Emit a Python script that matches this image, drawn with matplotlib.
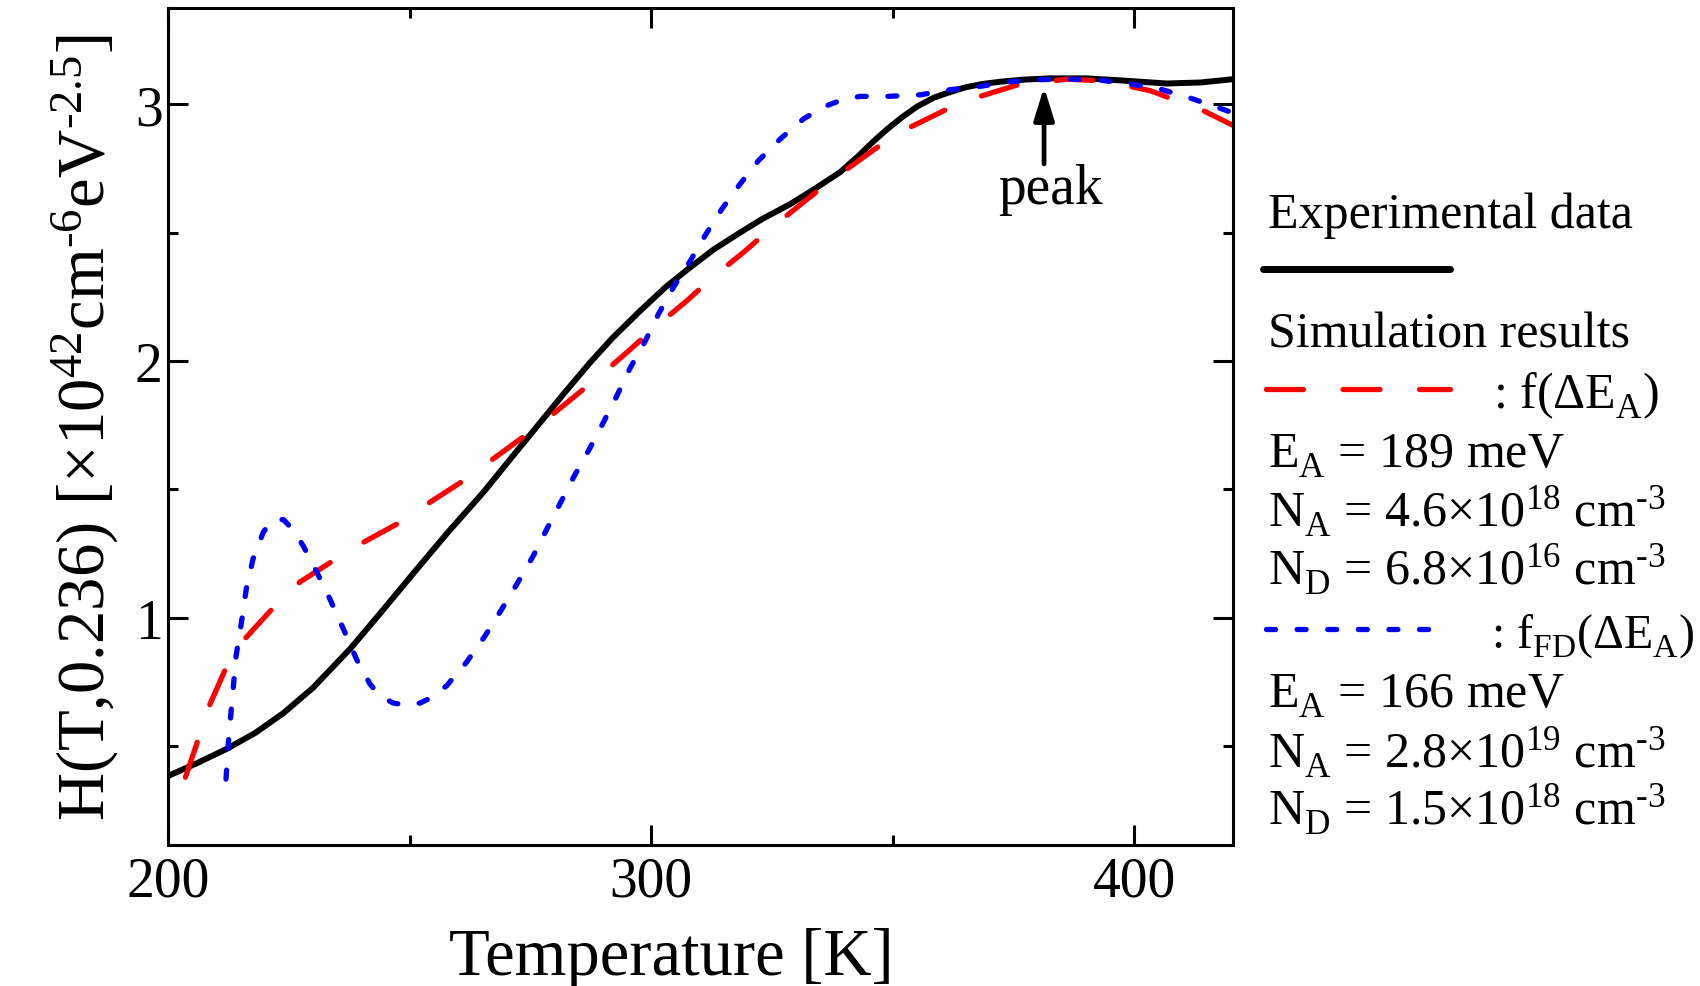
import matplotlib
matplotlib.use("Agg")
import matplotlib.pyplot as plt
import matplotlib._mathtext as mathtext_internal
from matplotlib.lines import Line2D
from matplotlib.ticker import MultipleLocator

# experimental data (black solid)
exp_T = [200.0, 206, 212.1, 218, 223.9, 230, 237.7, 244, 251.5, 258, 265.3, 272, 277.0,
         282, 287.4, 292, 297.7, 303, 308.1, 313, 318.4, 323, 328.8, 334, 339.1, 343,
         346, 349, 352, 355, 358.5, 361.9, 365, 368.5, 372.3, 377, 382.6, 390, 396.4,
         406.7, 413.7, 420.5]
exp_H = [0.385, 0.435, 0.49, 0.552, 0.63, 0.728, 0.88, 1.02, 1.19, 1.335, 1.49, 1.645, 1.76,
         1.875, 1.995, 2.09, 2.195, 2.288, 2.365, 2.435, 2.50, 2.553, 2.611, 2.672, 2.735, 2.80,
         2.855, 2.905, 2.95, 2.99, 3.025, 3.047, 3.065, 3.078, 3.087, 3.095, 3.10, 3.10, 3.093,
         3.08, 3.084, 3.097]

# simulation f(dEA) (red dashed)
f_T = [203.6, 206.3, 208.7, 212.1, 216.2, 221.8, 227.3, 234.2, 240.4, 248.0, 254.2, 261.1,
       267.3, 273.9, 280.1, 289.4, 295.0, 301, 307.4, 313, 319.1, 325, 331.5, 337, 341.5,
       347.4, 353.6, 361.2, 368.1, 375.7, 386.0, 393.6, 403.3, 414.3, 420.5]
f_H = [0.38, 0.53, 0.665, 0.81, 0.925, 1.04, 1.14, 1.223, 1.294, 1.372, 1.45, 1.534,
       1.619, 1.71, 1.80, 1.943, 2.034, 2.135, 2.235, 2.33, 2.423, 2.52, 2.618, 2.70, 2.76,
       2.84, 2.91, 2.98, 3.03, 3.074, 3.097, 3.09, 3.052, 2.974, 2.916]

# simulation fFD(dEA) (blue dotted)
fd_T = [212.0, 212.5, 213.1, 214.1, 215.2, 216.2, 217.6, 219.7, 221.5, 223.9, 226, 228.0,
        230.8, 233.5, 236.3, 239.0, 241.8, 244, 246.6, 249.5, 252.2, 255, 257.7, 261.8,
        265.6, 269.1, 272.2, 275.6, 278.4, 281, 284, 287.4, 290.1, 292.9, 295.7, 298.8,
        301.5, 304.6, 308.1, 311.2, 314.6, 318.4, 322.2, 326.7, 331.5, 335.8, 340, 343.3,
        349.1, 355.7, 361.9, 368.1, 374.3, 380.5, 386.7, 393, 399.2, 405.4, 411.6, 417.8, 420.5]
fd_H = [0.373, 0.516, 0.646, 0.853, 0.983, 1.113, 1.23, 1.333, 1.38, 1.383, 1.34, 1.28,
        1.178, 1.074, 0.957, 0.84, 0.743, 0.695, 0.669, 0.66, 0.669, 0.695, 0.737, 0.828,
        0.93, 1.035, 1.132, 1.242, 1.346, 1.44, 1.55, 1.664, 1.761, 1.865, 1.975, 2.079,
        2.183, 2.287, 2.39, 2.49, 2.591, 2.689, 2.78, 2.864, 2.942, 2.99, 3.02, 3.03,
        3.03, 3.036, 3.056, 3.069, 3.087, 3.095, 3.097, 3.093, 3.078, 3.058, 3.023, 2.983, 2.965]

peak_T = 381.3

plt.rcParams['font.family'] = ['Liberation Serif', 'DejaVu Serif']
plt.rcParams['mathtext.fontset'] = 'custom'
plt.rcParams['mathtext.rm'] = 'Liberation Serif'
plt.rcParams['mathtext.it'] = 'Liberation Serif:italic'
# subscripts sit lower in the original
mathtext_internal.FontConstantsBase.sub1 = 0.45

HY = '\u2010'  # short hyphen used in the exponents

W, H = 1700, 987
fig = plt.figure(figsize=(17, 9.87), dpi=100)
ax = fig.add_axes([168 / W, 1 - 845.6 / H, (1233 - 168) / W, (845.6 - 8.7) / H])

ax.plot(exp_T, exp_H, color='black', lw=4.3, solid_capstyle='round', solid_joinstyle='round')
ax.plot(f_T, f_H, color='#ff0000', lw=3.8, dashes=(7, 7.5), dash_capstyle='round')
ax.plot(fd_T, fd_H, color='#0000ff', lw=3.8, dashes=(1.7, 4.1), dash_capstyle='round')

ax.set_xlim(200, 420.4)
ax.set_ylim(0.118, 3.375)
ax.xaxis.set_major_locator(MultipleLocator(100))
ax.xaxis.set_minor_locator(MultipleLocator(50))
ax.yaxis.set_major_locator(MultipleLocator(1))
ax.yaxis.set_minor_locator(MultipleLocator(0.5))
ax.tick_params(which='both', direction='in', top=True, right=True, width=2.2, labelsize=40)
ax.tick_params(which='major', length=14.4)
ax.tick_params(which='minor', length=7.2)
ax.tick_params(axis='x', pad=8)
ax.tick_params(axis='y', pad=4)
for s in ax.spines.values():
    s.set_linewidth(2.2)

ax.set_xlabel('Temperature [K]', fontsize=48)
ax.xaxis.set_label_coords(0.473, -0.098)
ax.set_ylabel('H(T,0.236) [×10$^{42}$cm$^{' + HY + '6}$eV$^{' + HY + '2.5}$]',
              fontsize=48, labelpad=10)

ax.annotate('', xy=(peak_T, 3.066), xytext=(peak_T, 2.767),
            arrowprops=dict(arrowstyle='-|>,head_length=0.9,head_width=0.28',
                            color='black', lw=3.4, shrinkA=0, shrinkB=0, mutation_scale=22))
ax.text(382.6, 2.615, 'peak', fontsize=40, ha='center', va='baseline')


def fx(px):
    return px / W


def fy(py):
    return 1 - py / H


tx = fx(1268)
fs = 36
cm3 = ' cm$^{' + HY + '3}$'
fig.text(tx, fy(228), 'Experimental data', fontsize=fs, va='baseline')
fig.add_artist(Line2D([fx(1263), fx(1450)], [fy(270), fy(270)], color='black', lw=5,
                      solid_capstyle='round'))
fig.text(tx, fy(347), 'Simulation results', fontsize=fs, va='baseline')
fig.add_artist(Line2D([fx(1266), fx(1450)], [fy(390), fy(390)], color='#ff0000', lw=3.8,
                      dashes=(7, 7.5), dash_capstyle='round'))
fig.text(fx(1493), fy(408), r': f($\Delta$E$_\mathrm{A}$)', fontsize=fs, va='baseline')
fig.text(tx, fy(468), r'E$_\mathrm{A}$ = 189 meV', fontsize=fs, va='baseline')
fig.text(tx, fy(527), r'N$_\mathrm{A}$ = 4.6×10$^{18}$' + cm3, fontsize=fs, va='baseline')
fig.text(tx, fy(585), r'N$_\mathrm{D}$ = 6.8×10$^{16}$' + cm3, fontsize=fs, va='baseline')
fig.add_artist(Line2D([fx(1266), fx(1434)], [fy(630), fy(630)], color='#0000ff', lw=3.8,
                      dashes=(1.7, 4.1), dash_capstyle='round'))
fig.text(fx(1491), fy(648), r': f$_\mathrm{FD}$($\Delta$E$_\mathrm{A}$)', fontsize=34.5,
         va='baseline')
fig.text(tx, fy(708), r'E$_\mathrm{A}$ = 166 meV', fontsize=fs, va='baseline')
fig.text(tx, fy(768), r'N$_\mathrm{A}$ = 2.8×10$^{19}$' + cm3, fontsize=fs, va='baseline')
fig.text(tx, fy(825), r'N$_\mathrm{D}$ = 1.5×10$^{18}$' + cm3, fontsize=fs, va='baseline')

fig.savefig('out.png', dpi=100)
